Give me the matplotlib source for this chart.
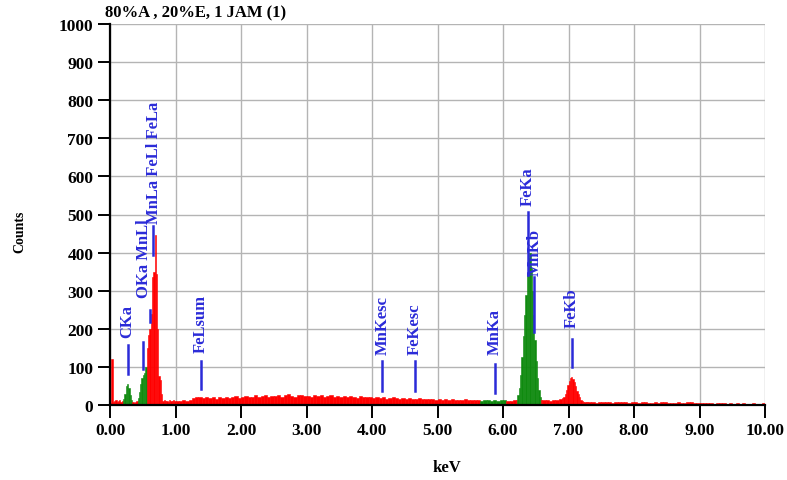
import matplotlib
matplotlib.use("Agg")
import matplotlib.pyplot as plt
import numpy as np

# ── spectrum data (counts per channel) ─────────────────────────────────────────
# each segment: start keV, channel width keV, counts
LOW_START, LOW_STEP = 0.00, 0.02
LOW_COUNTS = [5, 120, 8, 10, 12, 8, 10, 12, 8, 10,
              15, 30, 50, 55, 45, 25, 12, 8, 6, 8,
              10, 18, 35, 55, 70, 80, 85, 100, 150, 185,
              200, 240, 335, 350, 445, 345, 200, 75, 65, 30,
              10, 12, 10, 11, 9, 12, 10, 11, 12, 10]

MID_START, MID_STEP = 1.00, 0.05
MID_COUNTS = [11, 10, 12, 11, 13, 18, 20, 22, 19, 21,
              18, 20, 17, 22, 19, 21, 18, 20, 23, 19,
              21, 24, 20, 22, 26, 21, 23, 25, 22, 24,
              23, 26, 22, 25, 28, 24, 22, 27, 25, 23,
              24, 22, 26, 23, 25, 21, 24, 27, 22, 23,
              21, 23, 20, 24, 22, 19, 23, 21, 20, 22,
              19, 21, 18, 20, 17, 19, 21, 18, 17, 19,
              16, 18, 17, 15, 18, 16, 17, 15, 16, 14,
              15, 13, 16, 14, 15, 13, 14, 12, 15, 13, 12, 14,
              12, 11, 13, 12, 10, 12, 11, 13, 12, 11, 10, 12]

FEKA_START, FEKA_STEP = 6.20, 0.02
FEKA_COUNTS = [14, 25, 45, 80, 125, 180, 235, 290, 340, 385,
               400, 360, 300, 235, 170, 115, 70, 40, 20, 12]

GAP_START, GAP_STEP = 6.60, 0.05
GAP_COUNTS = [12, 13, 11, 14, 12, 15]

FEKB_START, FEKB_STEP = 6.90, 0.02
FEKB_COUNTS = [18, 22, 30, 40, 52, 62, 70, 73, 68, 60,
               50, 38, 28, 20, 14, 10, 9, 8, 8, 7]

HIGH_START, HIGH_STEP = 7.30, 0.05
HIGH_COUNTS = [7, 8, 6, 7, 9, 8, 7, 6, 8, 7, 9, 8, 6, 7,
               7, 6, 8, 7, 6, 5, 7, 6, 8, 9, 6, 5, 6, 7, 5, 6, 8, 9, 6, 5,
               5, 4, 5, 4, 3, 4, 5, 4, 3, 4, 3, 4, 3, 4, 3, 3, 4, 3, 3, 4]

# energy windows drawn in green (identified-peak regions)
GREEN_WINDOWS = [(0.20, 0.34), (0.42, 0.56), (5.65, 6.05), (6.22, 6.58)]

# peak markers: energy, bottom/top (counts)
MARK_E = [0.27, 0.51, 0.61, 0.66, 1.39, 4.16, 4.66, 5.88, 6.38, 6.47, 7.05]
MARK_LO = [81, 95, 218, 395, 42, 37, 37, 32, 340, 192, 100]
MARK_HI = [157, 165, 250, 470, 115, 115, 115, 108, 506, 336, 173]

# peak labels: text, x (keV), text bottom (counts)
PEAK_NAMES = ["CKa", "OKa MnLl", "MnLa FeLl FeLa", "FeLsum", "MnKesc",
              "FeKesc", "MnKa", "FeKa", "MnKb", "FeKb"]
TEXT_E = [0.27, 0.52, 0.67, 1.39, 4.16, 4.66, 5.88, 6.38, 6.49, 7.05]
TEXT_Y = [178, 283, 478, 140, 135, 135, 135, 525, 342, 205]

XTICKS = np.arange(0, 10.01, 1.0)
YTICKS = np.arange(0, 1001, 100)

TITLE = "80%A , 20%E, 1 JAM (1)"

SERIF = ["Liberation Serif", "DejaVu Serif"]
RED = "#ff0000"
GREEN = "#0f8a0f"
BLUE = "#2b2bd8"

# ── build channels ─────────────────────────────────────────────────────────────
segs = [(LOW_START, LOW_STEP, LOW_COUNTS), (MID_START, MID_STEP, MID_COUNTS),
        (FEKA_START, FEKA_STEP, FEKA_COUNTS), (GAP_START, GAP_STEP, GAP_COUNTS),
        (FEKB_START, FEKB_STEP, FEKB_COUNTS), (HIGH_START, HIGH_STEP, HIGH_COUNTS)]
edges, widths, counts = [], [], []
for start, step, vals in segs:
    for i, v in enumerate(vals):
        edges.append(start + i * step)
        widths.append(step)
        counts.append(v)
edges = np.array(edges)
widths = np.array(widths)
counts = np.array(counts)
mid = edges + widths / 2
colors = [GREEN if any(a <= m < b for a, b in GREEN_WINDOWS) else RED for m in mid]

# ── figure ─────────────────────────────────────────────────────────────────────
fig = plt.figure(figsize=(7.87, 4.81), dpi=100)
ax = fig.add_axes([110 / 787, 1 - 406 / 481, 655 / 787, 381 / 481])

ax.bar(edges, counts, width=widths, align="edge", color=colors,
       edgecolor=colors, linewidth=0.4, zorder=2)

for e, lo, hi in zip(MARK_E, MARK_LO, MARK_HI):
    ax.plot([e, e], [lo, hi], color=BLUE, lw=1.8, zorder=4)
for name, te, ty in zip(PEAK_NAMES, TEXT_E, TEXT_Y):
    ax.text(te, ty, name, rotation=90, ha="center", va="bottom",
            color=BLUE, fontsize=12, fontweight="bold", family=SERIF, zorder=5)

ax.set_xlim(0, 10)
ax.set_ylim(0, 1000)
ax.set_xticks(XTICKS)
ax.set_xticklabels([f"{v:.2f}" for v in XTICKS])
ax.set_yticks(YTICKS)
ax.grid(True, color="#b4b4b4", lw=1.0, zorder=0)
ax.set_axisbelow(True)
for s in ("top", "right"):
    ax.spines[s].set_visible(False)
ax.spines["left"].set_linewidth(1.6)
ax.spines["bottom"].set_linewidth(1.6)
ax.tick_params(direction="out", length=9, width=1.4, pad=3)
for lab in ax.get_xticklabels() + ax.get_yticklabels():
    lab.set_family(SERIF)
    lab.set_fontsize(12.5)
    lab.set_fontweight("bold")

fig.text(105 / 787, 1 - 13 / 481, TITLE, family=SERIF, fontsize=12,
         fontweight="bold", va="center", ha="left")
fig.text(20 / 787, 1 - 232 / 481, "Counts", family=SERIF, fontsize=10,
         fontweight="bold", rotation=90, va="center", ha="center")
fig.text(447 / 787, 1 - 468 / 481, "keV", family=SERIF, fontsize=12,
         fontweight="bold", va="center", ha="center")

fig.savefig("out.png", dpi=100)
